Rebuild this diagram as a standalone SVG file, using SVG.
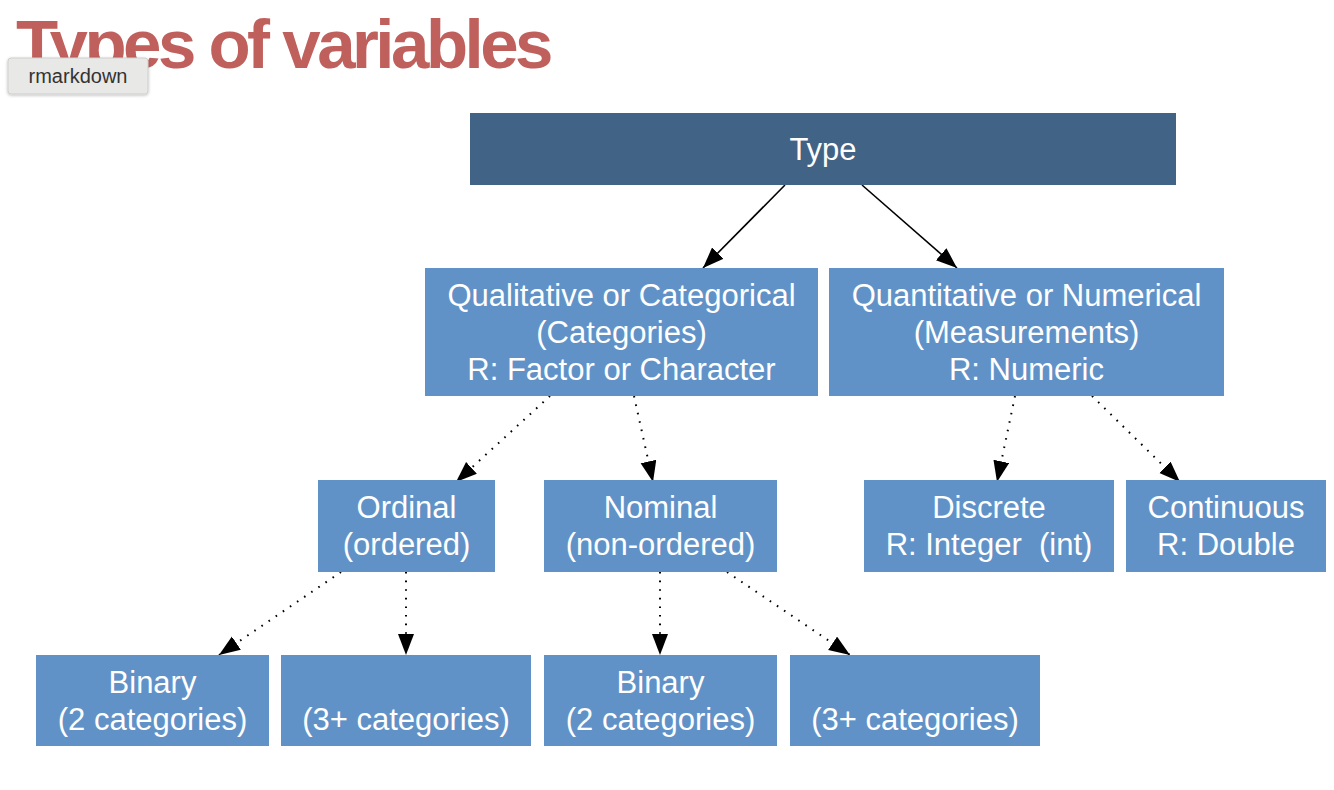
<svg xmlns="http://www.w3.org/2000/svg" width="1334" height="790" viewBox="0 0 1334 790">
<style>
.title{font-family:"Liberation Sans",Arial,sans-serif;font-weight:bold;font-size:69px;fill:#c0605d;letter-spacing:-3.5px}
.lbl{font-family:"Liberation Sans",Arial,sans-serif;font-size:31px;fill:#ffffff;text-anchor:middle}
.tag{font-family:"Liberation Sans",Arial,sans-serif;font-size:20px;fill:#333333;text-anchor:middle}
.dark{fill:#416386}
.box{fill:#6192c7}
.solid{stroke:#000;stroke-width:1.6;fill:none;marker-end:url(#ah)}
.dot{stroke:#000;stroke-width:2;fill:none;stroke-dasharray:1.6 7;marker-end:url(#ah)}
</style>
<defs>
<marker id="ah" markerUnits="userSpaceOnUse" markerWidth="24" markerHeight="18" refX="21" refY="8" orient="auto">
<path d="M0,0 L21,8 L0,16 z" fill="#000"/>
</marker>
<filter id="sh" x="-10%" y="-20%" width="120%" height="150%">
<feDropShadow dx="0" dy="1" stdDeviation="1.5" flood-color="#000" flood-opacity="0.25"/>
</filter>
</defs>
<rect width="1334" height="790" fill="#ffffff"/>
<text class="title" x="16" y="68">Types of variables</text>
<g id="rmarkdown">
<rect x="8" y="58" width="140" height="36" rx="3" fill="#e8e8e6" stroke="#cfcfcf" filter="url(#sh)"/>
<text class="tag" x="78" y="83">rmarkdown</text>
</g>
<g id="connectors">
<path class="solid" d="M785,185 L703,268"/>
<path class="solid" d="M862,185 L957,268"/>
<path class="dot" d="M550,396 L456,482"/>
<path class="dot" d="M634,396 L653,482"/>
<path class="dot" d="M1015,396 L997,482"/>
<path class="dot" d="M1092,396 L1180,482"/>
<path class="dot" d="M341,572 L219,655"/>
<path class="dot" d="M406,572 L406,655"/>
<path class="dot" d="M660,572 L660,655"/>
<path class="dot" d="M727,572 L850,655"/>
</g>
<g id="type">
<rect class="dark" x="470" y="113" width="706" height="72"/>
<text class="lbl" x="823" y="160">Type</text>
</g>
<g id="qualitative">
<rect class="box" x="425" y="268" width="393" height="128"/>
<text class="lbl" x="621.5" y="306">Qualitative or Categorical</text>
<text class="lbl" x="621.5" y="343">(Categories)</text>
<text class="lbl" x="621.5" y="380">R: Factor or Character</text>
</g>
<g id="quantitative">
<rect class="box" x="829" y="268" width="395" height="128"/>
<text class="lbl" x="1026.5" y="306">Quantitative or Numerical</text>
<text class="lbl" x="1026.5" y="343">(Measurements)</text>
<text class="lbl" x="1026.5" y="380">R: Numeric</text>
</g>
<g id="ordinal">
<rect class="box" x="318" y="480" width="177" height="92"/>
<text class="lbl" x="406.5" y="518">Ordinal</text>
<text class="lbl" x="406.5" y="555">(ordered)</text>
</g>
<g id="nominal">
<rect class="box" x="544" y="480" width="233" height="92"/>
<text class="lbl" x="660.5" y="518">Nominal</text>
<text class="lbl" x="660.5" y="555">(non-ordered)</text>
</g>
<g id="discrete">
<rect class="box" x="864" y="480" width="250" height="92"/>
<text class="lbl" x="989" y="518">Discrete</text>
<text class="lbl" x="989" y="555" xml:space="preserve">R: Integer  (int)</text>
</g>
<g id="continuous">
<rect class="box" x="1126" y="480" width="200" height="92"/>
<text class="lbl" x="1226" y="518">Continuous</text>
<text class="lbl" x="1226" y="555">R: Double</text>
</g>
<g id="binary1">
<rect class="box" x="36" y="655" width="233" height="91"/>
<text class="lbl" x="152.5" y="693">Binary</text>
<text class="lbl" x="152.5" y="730">(2 categories)</text>
</g>
<g id="multi1">
<rect class="box" x="281" y="655" width="250" height="91"/>
<text class="lbl" x="406" y="730">(3+ categories)</text>
</g>
<g id="binary2">
<rect class="box" x="544" y="655" width="233" height="91"/>
<text class="lbl" x="660.5" y="693">Binary</text>
<text class="lbl" x="660.5" y="730">(2 categories)</text>
</g>
<g id="multi2">
<rect class="box" x="790" y="655" width="250" height="91"/>
<text class="lbl" x="915" y="730">(3+ categories)</text>
</g>
</svg>
